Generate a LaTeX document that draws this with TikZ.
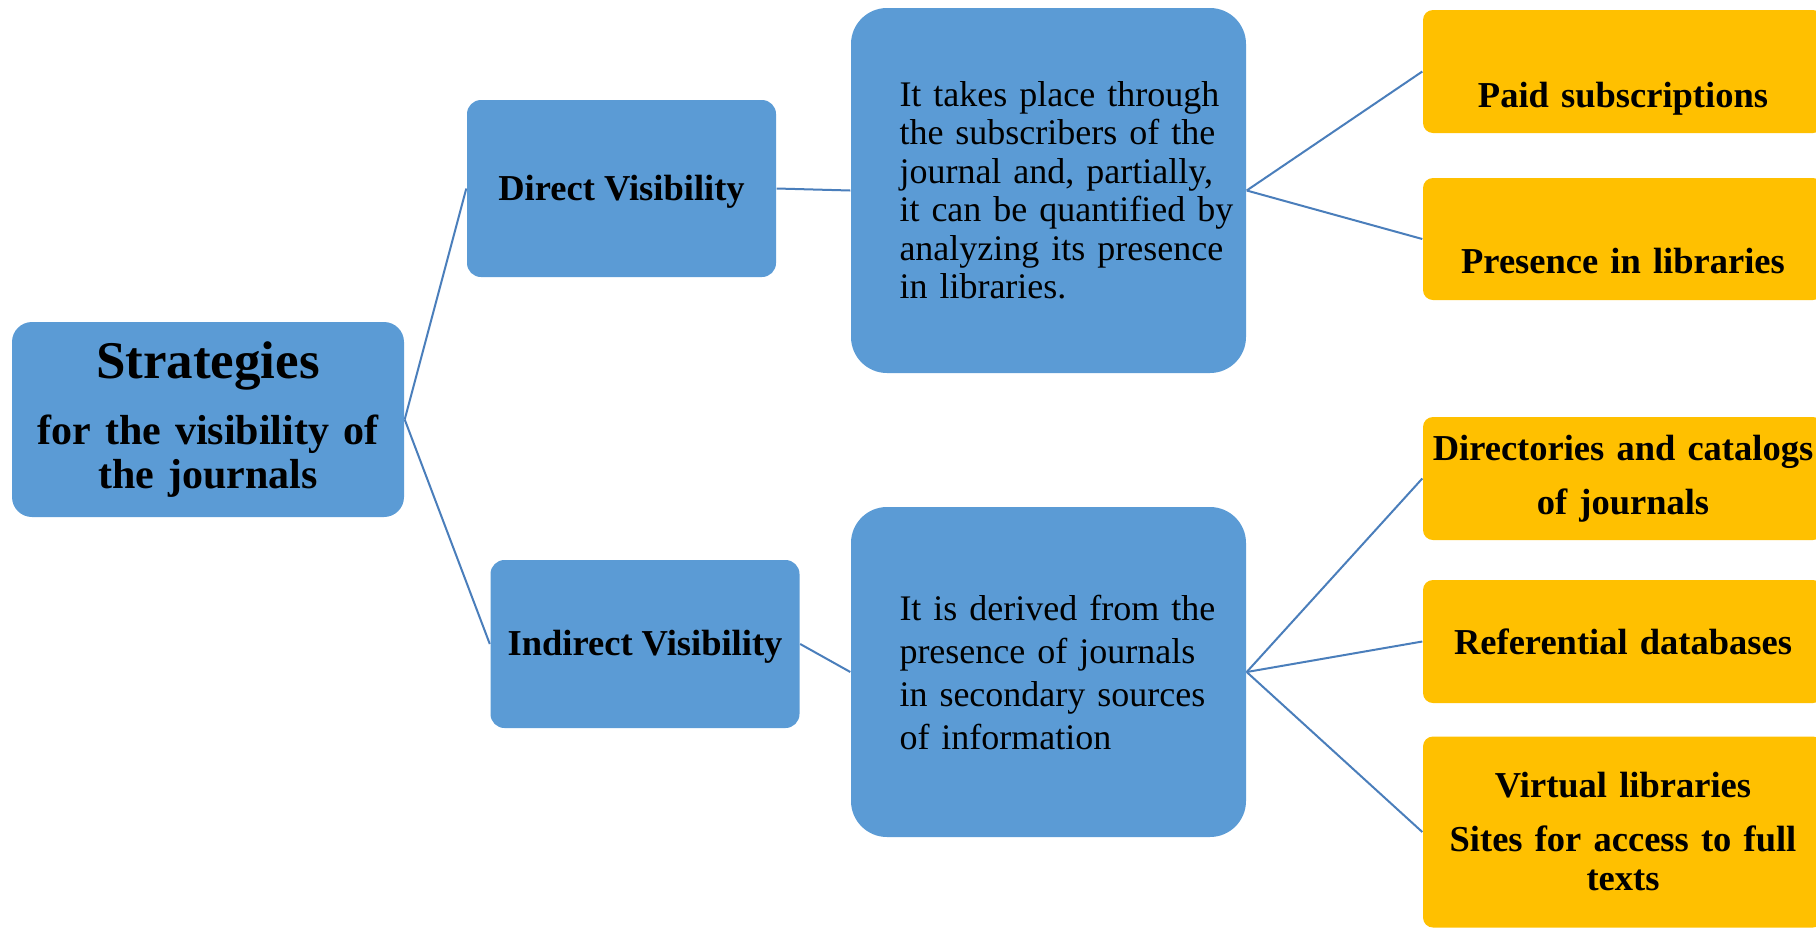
\documentclass[tikz,border=0pt]{standalone}
\usepackage{fontspec}
\setmainfont{Liberation Serif}
\definecolor{boxblue}{HTML}{5B9BD5}
\definecolor{boxgold}{HTML}{FFC000}
\definecolor{linkblue}{HTML}{4A7EBB}

\begin{document}
\begin{tikzpicture}[x=0.1mm, y=-0.1mm,
    main/.style={rectangle, rounded corners=2mm, fill=boxblue, inner sep=0pt, minimum width=39.2mm, minimum height=19.5mm, text width=39.2mm, align=center, font=\bfseries\fontsize{4.2mm}{4.4mm}\selectfont},
    vis/.style={rectangle, rounded corners=1.4mm, fill=boxblue, inner sep=0pt, minimum width=30.9mm, font=\bfseries\fontsize{3.65mm}{4mm}\selectfont},
    desc/.style={rectangle, rounded corners=3.6mm, fill=boxblue, inner sep=0pt, minimum width=39.5mm, text width=39.5mm, align=left, execute at begin node={\leftskip=4.85mm}},
    opt/.style={rectangle, rounded corners=1mm, fill=boxgold, inner sep=0pt, minimum width=40mm, text width=40mm, align=center, font=\bfseries\fontsize{3.65mm}{3.9mm}\selectfont},
    link/.style={draw=linkblue, line width=0.2mm}]

    \useasboundingbox (0,0) rectangle (1816,928);

    \node [main] (root) at (208,419.5) {{\fontsize{5.3mm}{5.3mm}\selectfont Strategies}\\[2.2mm] for the visibility of\\ the journals};

    \node [vis, text height=10mm, text depth=7.7mm] (direct) at (621.5,188.5) {Direct Visibility};
    \node [vis, text height=9.5mm, text depth=7.3mm] (indirect) at (645,644) {Indirect Visibility};

    \node [desc, minimum height=36.5mm, font=\fontsize{3.6mm}{3.85mm}\selectfont] (descA) at (1048.5,190.5) {It takes place through\\ the subscribers of the\\ journal and, partially,\\ it can be quantified by\\ analyzing its presence\\ in libraries.};
    \node [desc, minimum height=33mm, font=\fontsize{3.6mm}{4.3mm}\selectfont] (descB) at (1048.5,672) {It is derived from the\\ presence of journals\\ in secondary sources\\ of information};

    \node [opt, text height=9.7mm, text depth=2.6mm] (paid) at (1623,71.5) {Paid subscriptions};
    \node [opt, text height=9.5mm, text depth=2.7mm] (libs) at (1623,239) {Presence in libraries};
    \node [opt, minimum height=12.3mm] (dirs) at (1623,478.5) {Directories and catalogs\\[1.5mm] of journals};
    \node [opt, minimum height=12.3mm] (refs) at (1623,641.5) {Referential databases};
    \node [opt, minimum height=19.1mm] (virt) at (1623,832) {Virtual libraries\\[1.5mm] Sites for access to full\\ texts};

    \draw [link] (root.east) -- (direct.west);
    \draw [link] (root.east) -- (indirect.west);
    \draw [link] (direct.east) -- (descA.west);
    \draw [link] (indirect.east) -- (descB.west);

    \draw [link] (descA.east) -- (paid.west);
    \draw [link] (descA.east) -- (libs.west);
    \draw [link] (descB.east) -- (dirs.west);
    \draw [link] (descB.east) -- (refs.west);
    \draw [link] (descB.east) -- (virt.west);

\end{tikzpicture}
\end{document}
